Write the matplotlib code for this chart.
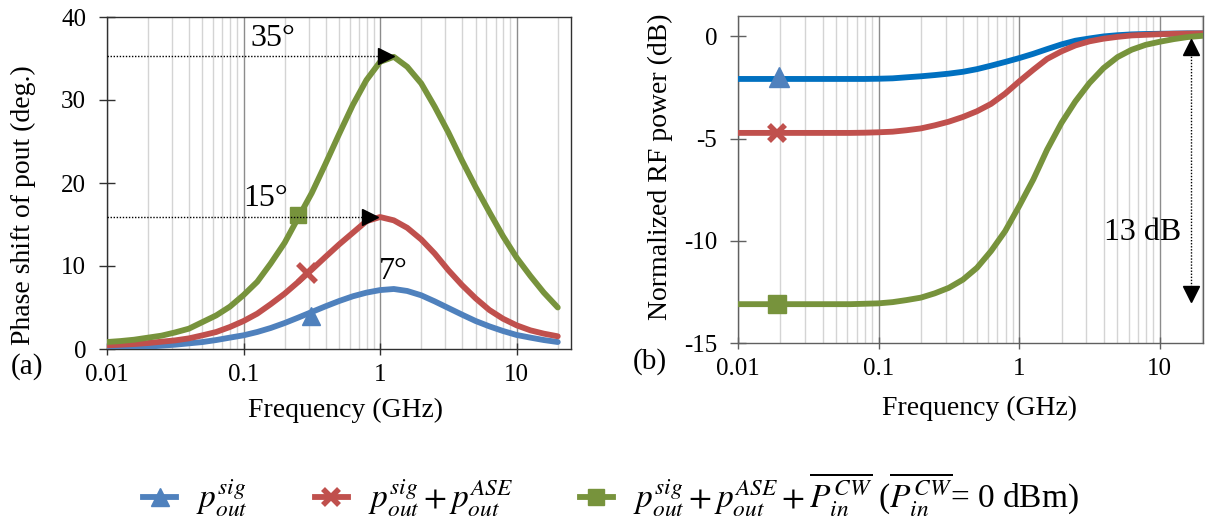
import numpy as np
import matplotlib
matplotlib.use("Agg")
import matplotlib.pyplot as plt
from matplotlib.ticker import LogLocator, FixedLocator, NullFormatter
from matplotlib.lines import Line2D

plt.rcParams['font.family'] = ['Liberation Serif', 'DejaVu Serif']
plt.rcParams['mathtext.fontset'] = 'stix'

# ---------------- data ----------------
# frequency samples (GHz), read every 0.1 decade
freq = [0.01, 0.0126, 0.0158, 0.02, 0.0251, 0.0316, 0.0398, 0.0501, 0.0631, 0.0794,
        0.1, 0.126, 0.158, 0.2, 0.251, 0.316, 0.398, 0.501, 0.631, 0.794,
        1.0, 1.26, 1.58, 2.0, 2.51, 3.16, 3.98, 5.01, 6.31, 7.94,
        10.0, 12.6, 15.8, 20.0]

# (a) phase shift of pout (deg.)
phase_sig = [0.04, 0.12, 0.2, 0.28, 0.4, 0.52, 0.68, 0.84, 1.08, 1.37,
             1.65, 2.05, 2.53, 3.13, 3.78, 4.46, 5.14, 5.78, 6.35, 6.79,
             7.1, 7.23, 6.99, 6.47, 5.74, 4.94, 4.14, 3.37, 2.73, 2.17,
             1.69, 1.37, 1.08, 0.84]
phase_ase = [0.44, 0.52, 0.6, 0.72, 0.88, 1.04, 1.28, 1.65, 2.05, 2.65,
             3.37, 4.26, 5.4, 6.67, 8.07, 9.56, 11.1, 12.6, 14.0, 15.4,
             15.9, 15.5, 14.6, 13.2, 11.5, 9.5, 7.7, 6.1, 4.7, 3.65,
             2.85, 2.25, 1.85, 1.53]
phase_cw = [0.84, 0.96, 1.12, 1.37, 1.61, 2.0, 2.45, 3.25, 4.05, 5.1,
            6.5, 8.1, 10.3, 12.8, 15.8, 18.8, 22.3, 25.9, 29.4, 32.4,
            34.6, 35.2, 34.0, 32.0, 29.2, 26.1, 22.7, 19.5, 16.5, 13.6,
            11.0, 8.8, 6.8, 5.0]

# (b) normalized RF power (dB)
pow_sig = [-2.08, -2.08, -2.08, -2.08, -2.08, -2.08, -2.08, -2.08, -2.08, -2.08,
           -2.07, -2.05, -2.0, -1.95, -1.89, -1.82, -1.73, -1.6, -1.43, -1.25,
           -1.06, -0.85, -0.62, -0.39, -0.21, -0.1, 0.0, 0.06, 0.1, 0.12,
           0.13, 0.14, 0.15, 0.15]
pow_ase = [-4.72, -4.72, -4.72, -4.72, -4.72, -4.72, -4.72, -4.72, -4.72, -4.71,
           -4.69, -4.66, -4.59, -4.5, -4.35, -4.17, -3.94, -3.66, -3.3, -2.8,
           -2.2, -1.63, -1.1, -0.73, -0.44, -0.24, -0.11, -0.02, 0.05, 0.08,
           0.11, 0.13, 0.14, 0.15]
pow_cw = [-13.1, -13.1, -13.1, -13.1, -13.1, -13.1, -13.1, -13.1, -13.1, -13.08,
          -13.06, -13.0, -12.9, -12.78, -12.57, -12.3, -11.9, -11.32, -10.5, -9.53,
          -8.3, -7.0, -5.54, -4.23, -3.18, -2.28, -1.55, -1.01, -0.65, -0.41,
          -0.26, -0.13, -0.03, 0.03]

# marker positions
mark_a_f = [0.31, 0.29, 0.25]
mark_a_v = [4.0, 9.1, 16.2]
mark_b_f = [0.0195, 0.019, 0.019]
mark_b_v = [-2.0, -4.72, -13.1]

x_ticks = [0.01, 0.1, 1, 10]
x_ticklabels = ['0.01', '0.1', '1', '10']
ya_ticks = [0, 10, 20, 30, 40]
yb_ticks = [-15, -10, -5, 0]
yb_ticklabels = ['-15', '-10', '-5', '0']

# annotations
peak_cw = (1.11, 35.3)
peak_ase = (0.85, 15.9)
arrow_f = 16.6
arrow_top = -0.5
arrow_bot = -12.6

C_BLUE = '#4F81BD'
C_BLUE_B = '#0070C0'
C_RED = '#C0504D'
C_GREEN = '#77933C'

W, H = 1205, 529
fig = plt.figure(figsize=(W / 100, H / 100), dpi=100)

def ax_rect(x0, y0, x1, y1):
    return [x0 / W, 1 - y1 / H, (x1 - x0) / W, (y1 - y0) / H]

axa = fig.add_axes(ax_rect(107, 17, 571, 349))
axb = fig.add_axes(ax_rect(738, 16, 1203, 343))

TICK_FS = 18
LW = 4.2

for ax, sc in ((axa, '#303030'), (axb, '#606060')):
    ax.set_xscale('log')
    ax.xaxis.set_major_locator(FixedLocator(x_ticks))
    ax.xaxis.set_minor_locator(LogLocator(base=10, subs=range(2, 10), numticks=20))
    ax.xaxis.set_minor_formatter(NullFormatter())
    ax.grid(True, which='major', axis='x', color='#8C8C8C', lw=1.0)
    ax.grid(True, which='minor', axis='x', color='#D4D4D4', lw=1.0)
    ax.tick_params(axis='x', which='minor', length=0)
    ax.tick_params(axis='y', which='major', direction='inout', length=12,
                   width=1.0, color=sc, labelsize=TICK_FS, pad=9)
    ax.tick_params(axis='x', which='major', direction='inout', length=9,
                   width=1.0, color=sc, labelsize=TICK_FS, pad=6)
    for s in ax.spines.values():
        s.set_color(sc)
        s.set_linewidth(1.0)
    ax.set_axisbelow(True)

# ---- (a)
axa.set_xlim(0.01, 25)
axa.set_ylim(0, 40)
axa.set_xticklabels(x_ticklabels, fontsize=TICK_FS)
axa.set_yticks(ya_ticks)
axa.set_yticklabels([str(v) for v in ya_ticks], fontsize=TICK_FS)
axa.plot(freq, phase_sig, color=C_BLUE, lw=LW, solid_capstyle='round',
         solid_joinstyle='round', zorder=3)
axa.plot(freq, phase_ase, color=C_RED, lw=LW, solid_capstyle='round',
         solid_joinstyle='round', zorder=3)
axa.plot(freq, phase_cw, color=C_GREEN, lw=LW, solid_capstyle='round',
         solid_joinstyle='round', zorder=3)
axa.plot(mark_a_f[0], mark_a_v[0], marker='^', color=C_BLUE, ms=13, zorder=4)
axa.plot(mark_a_f[1], mark_a_v[1], marker='x', color=C_RED, ms=13, mew=4, zorder=4)
axa.plot(mark_a_f[2], mark_a_v[2], marker='s', color=C_GREEN, ms=12, zorder=4)

for (pf, pv) in (peak_cw, peak_ase):
    axa.plot([0.01, pf], [pv, pv], color='black', lw=1.0, ls=(0, (1, 1.2)), zorder=5)
    axa.plot(pf, pv, marker='>', color='black', ms=12, zorder=6)

ANN_FS = 23
axa.text(0.163, 37.4, '35°', fontsize=ANN_FS, ha='center', va='center')
axa.text(0.146, 18.1, '15°', fontsize=ANN_FS, ha='center', va='center')
axa.text(1.25, 9.3, '7°', fontsize=ANN_FS, ha='center', va='center')

# ---- (b)
axb.set_xlim(0.01, 20.3)
axb.set_ylim(-15, 1)
axb.set_xticklabels(x_ticklabels, fontsize=TICK_FS)
axb.set_yticks(yb_ticks)
axb.set_yticklabels(yb_ticklabels, fontsize=TICK_FS)
axb.plot(freq, pow_sig, color=C_BLUE_B, lw=LW, solid_joinstyle='round', zorder=3)
axb.plot(freq, pow_ase, color=C_RED, lw=LW, solid_joinstyle='round', zorder=3)
axb.plot(freq, pow_cw, color=C_GREEN, lw=LW, solid_joinstyle='round', zorder=3)
axb.plot(mark_b_f[0], mark_b_v[0], marker='^', color=C_BLUE, ms=15, zorder=4)
axb.plot(mark_b_f[1], mark_b_v[1], marker='x', color=C_RED, ms=12, mew=4, zorder=4)
axb.plot(mark_b_f[2], mark_b_v[2], marker='s', color=C_GREEN, ms=13, zorder=4)

axb.plot([arrow_f, arrow_f], [arrow_top, arrow_bot], color='black', lw=1.0,
         ls=(0, (1, 1.2)), zorder=5)
axb.plot(arrow_f, arrow_top, marker='^', color='black', ms=12, zorder=6)
axb.plot(arrow_f, arrow_bot, marker='v', color='black', ms=12, zorder=6)
axb.text(14.3, -9.6, '13 dB', fontsize=ANN_FS, ha='right', va='center')

# ---- labels
LAB_FS = 20
fig.text(346 / W, 1 - 410 / H, 'Frequency (GHz)', fontsize=LAB_FS, ha='center', va='center')
fig.text(980 / W, 1 - 408 / H, 'Frequency (GHz)', fontsize=LAB_FS, ha='center', va='center')
fig.text(23 / W, 1 - 205 / H, 'Phase shift of pout (deg.)', fontsize=LAB_FS,
         rotation=90, ha='center', va='center')
fig.text(660 / W, 1 - 167 / H, 'Normalized RF power (dB)', fontsize=LAB_FS,
         rotation=90, ha='center', va='center')
fig.text(27 / W, 1 - 367 / H, '(a)', fontsize=21, ha='center', va='center')
fig.text(650 / W, 1 - 362 / H, '(b)', fontsize=21, ha='center', va='center')

# ---- legend
handles = [
    Line2D([], [], color=C_BLUE, lw=LW, marker='^', ms=13),
    Line2D([], [], color=C_RED, lw=LW, marker='x', ms=12, mew=4),
    Line2D([], [], color=C_GREEN, lw=LW, marker='s', ms=12),
]
labels = [
    r'$p_{out}^{sig}$',
    r'$p_{out}^{sig} + p_{out}^{ASE}$',
    r'$p_{out}^{sig} + p_{out}^{ASE} + \overline{P_{in}^{CW}}$ ($\overline{P_{in}^{CW}}$= 0 dBm)',
]
fig.legend(handles, labels, loc='center', bbox_to_anchor=(611 / W, 1 - 495 / H),
           ncol=3, frameon=False, fontsize=24, handlelength=1.0, handletextpad=0.6,
           columnspacing=2.0)

fig.savefig('out.png', dpi=100)
